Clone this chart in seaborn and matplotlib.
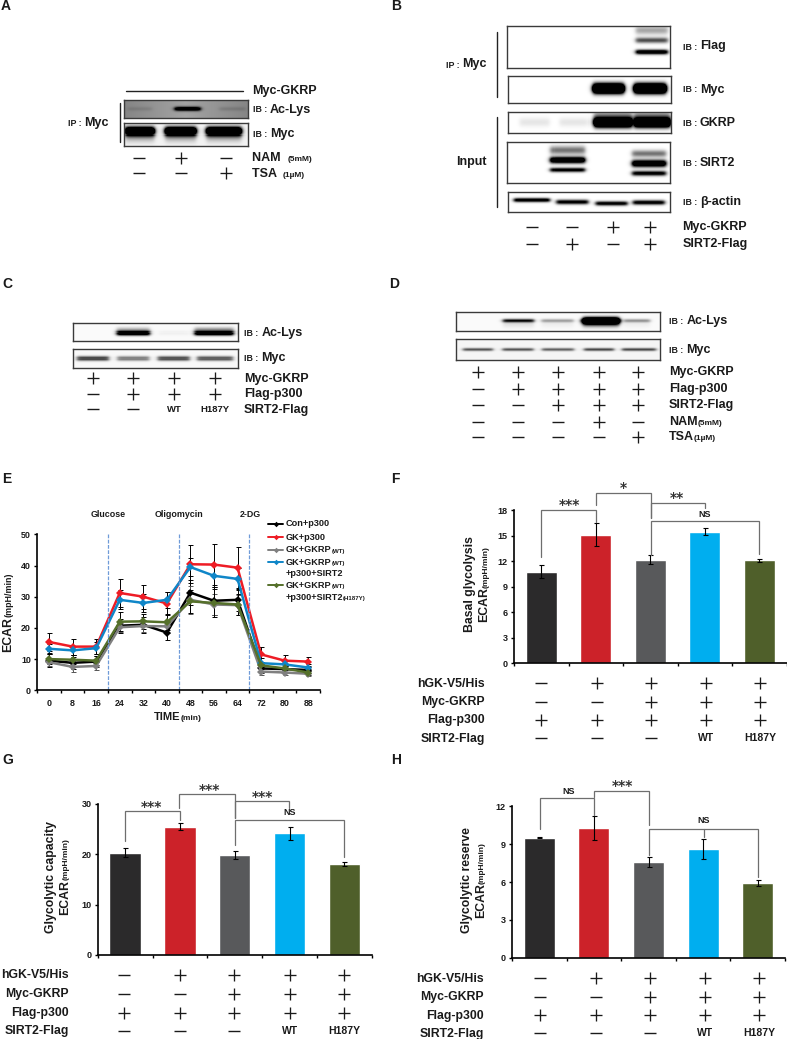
import numpy as np
import pandas as pd
import matplotlib
matplotlib.use('Agg')
import matplotlib.pyplot as plt
import seaborn as sns

W, H = 787, 1039
sns.set_theme(style='ticks')
plt.rcParams['font.family'] = ['Liberation Sans', 'DejaVu Sans']
plt.rcParams['font.weight'] = 'bold'

# ---- panel E
time_min = [0, 8, 16, 24, 32, 40, 48, 56, 64, 72, 80, 88]
groups = ['Con+p300', 'GK+p300', 'GK+GKRP', 'GK+GKRP+SIRT2', 'GK+GKRP+H187Y']
group_colors = ['#000000', '#ee1c25', '#808080', '#0f86c8', '#55702a']
con_p300 = [9.5, 8.8, 9.2, 20.7, 21, 18.5, 31.3, 28.7, 29, 7, 6.8, 6.5]
gk_p300 = [15.5, 14, 14, 31.2, 30, 27.8, 40.4, 40.3, 39.3, 11.5, 9.5, 9.2]
gk_gkrp = [9, 7.5, 7.8, 20.2, 20.6, 20.5, 29, 27.5, 27.3, 6, 5.7, 5.3]
gk_sirt2 = [13.3, 12.8, 13.5, 29, 28, 29, 39.5, 36.7, 35.7, 8.7, 8.3, 7.3]
gk_h187y = [10, 9.8, 9.5, 22, 22.1, 21.8, 28.5, 28, 27.5, 8, 7, 5.7]
con_err = [2, 2, 1.8, 2.3, 2.5, 2.3, 4, 4.5, 3.6, 1.5, 1, 1]
gk_err = [2.8, 2.6, 2.5, 4.5, 3.9, 3.7, 6.1, 6.7, 6.5, 2.3, 1.7, 1.4]
gkrp_err = [1.2, 1.6, 1.4, 1.5, 1.8, 2, 4.5, 3.3, 3.2, 1, 0.8, 0.8]
sirt2_err = [1.5, 1.5, 2, 3, 3, 2.5, 3, 3.5, 3.5, 1.5, 1.2, 1]
h187y_err = [1.5, 1.5, 1.5, 3, 2.5, 2.5, 3.8, 4.5, 3.5, 1.2, 1, 0.8]
inject_times = [20, 44, 68]

# ---- bar panels
bar_groups = ['Con', 'GK', 'GK+GKRP', 'SIRT2 WT', 'SIRT2 H187Y']
bar_colors = ['#2b2a2b', '#cc2229', '#58595b', '#00aeef', '#4f5f2a']
basal = [10.8, 15.15, 12.2, 15.5, 12.1]
basal_err = [0.8, 1.3, 0.5, 0.45, 0.15]
capacity = [20.3, 25.4, 19.8, 24.1, 18.0]
capacity_err = [0.9, 0.7, 0.8, 1.2, 0.4]
reserve = [9.5, 10.25, 7.55, 8.6, 5.9]
reserve_err = [0.05, 0.95, 0.4, 0.8, 0.25]

row_names = ['hGK-V5/His', 'Myc-GKRP', 'Flag-p300', 'SIRT2-Flag']
hgk_signs = ['-', '+', '+', '+', '+']
myc_signs = ['-', '-', '+', '+', '+']
p300_signs = ['+', '+', '+', '+', '+']
sirt2_signs = ['-', '-', '-', 'WT', 'H187Y']

# ---- blot band strengths, one value per lane
a_lys = [0.12, 1.5, 0.14]
a_myc = [2.5, 2.5, 2.5]
b_flag_top = [0, 0, 0, 0.35]
b_flag_mid = [0, 0, 0, 0.7]
b_flag_low = [0, 0, 0, 1.3]
b_myc = [0, 0, 3, 3]
b_gkrp = [0.1, 0.1, 3, 3]
b_sirt2_top = [0, 0.55, 0, 0.55]
b_sirt2_mid = [0, 1.6, 0, 1.6]
b_sirt2_low = [0, 1.1, 0, 1.1]
b_actin = [1.2, 1.1, 1.1, 1.1]
c_lys = [0, 1.4, 0.04, 1.4]
c_myc = [0.75, 0.5, 0.7, 0.65]
d_lys = [0, 1.0, 0.35, 3, 0.4]
d_myc = [0.65, 0.65, 0.6, 0.7, 0.7]

fig = plt.figure(figsize=(W / 100, H / 100), dpi=100, facecolor='white')


def add_ax(left, top, right, bottom):
    return fig.add_axes([left / W, 1 - bottom / H, (right - left) / W, (bottom - top) / H])


pix = fig.add_axes([0, 0, 1, 1], zorder=10)
pix.set_xlim(0, W)
pix.set_ylim(H, 0)
pix.axis('off')
pix.patch.set_alpha(0)
rend = fig.canvas.get_renderer()


def rich(x, y, runs, rotation=0, ha='left', gap=0):
    # text made of pieces of different size on one baseline
    items = [pix.text(0, 0, s, fontsize=fs, rotation=rotation, rotation_mode='anchor',
                      ha='left', va='baseline', color='#1a1a1a') for s, fs in runs]
    sizes = []
    for t in items:
        bb = t.get_window_extent(rend)
        sizes.append(bb.height if rotation == 90 else bb.width)
    total = sum(sizes) + gap * (len(runs) - 1)
    pos = -total / 2 if ha == 'center' else (-total if ha == 'right' else 0)
    for t, s in zip(items, sizes):
        if rotation == 90:
            t.set_position((x, y - pos))
        else:
            t.set_position((x + pos, y))
        pos += s + gap


def signs(xs, y, vals, small=7.5):
    for x, v in zip(xs, vals):
        if v == '+':
            pix.plot([x], [y], marker='+', ms=8.5, mew=0.95, color='#1a1a1a')
        elif v == '-':
            pix.plot([x], [y], marker='_', ms=8.5, mew=1.0, color='#1a1a1a')
        else:
            pix.text(x, y, v, fontsize=small, ha='center', va='center', color='#1a1a1a')


def blot(left, top, right, bottom, bg, lanes, rows, fade=0.0):
    ax = add_ax(left, top, right, bottom)
    n_w, n_h = int(right - left), int(bottom - top)
    xs = left + (np.arange(n_w) + 0.5) * (right - left) / n_w
    ys = top + (np.arange(n_h) + 0.5) * (bottom - top) / n_h
    img = np.full((n_h, n_w), float(bg))
    if fade:
        img = img + fade * np.abs(xs - xs.mean())[None, :] / (xs.max() - xs.mean())
    for y0, sy, vals in rows:
        for (c, hw), v in zip(lanes, vals):
            xp = 0.5 * (np.tanh((xs - (c - hw)) / 2.4) - np.tanh((xs - (c + hw)) / 2.4))
            yp = np.exp(-0.5 * ((ys - y0) / sy) ** 2)
            img = 1 - (1 - img) * (1 - np.clip(v * xp[None, :] * yp[:, None], 0, 1))
    sns.heatmap(img, vmin=0, vmax=1, cmap='gray_r', cbar=False, xticklabels=False,
                yticklabels=False, ax=ax)
    for sp in ax.spines.values():
        sp.set_visible(True)
        sp.set_color('#3a3a3a')
        sp.set_linewidth(1.0)


def ib(x, y, name, fs=9):
    rich(x, y + 3.5, [('IB :', 6.3), (name, fs)], gap=3)


def bracket(points, color='#6e6e6e'):
    px, py = zip(*points)
    pix.plot(px, py, color=color, lw=0.9, solid_joinstyle='miter')


# panel letters
for letter, lx, ly in [('A', 1, 10), ('B', 391, 10), ('C', 2, 288), ('D', 389, 288),
                       ('E', 2, 483), ('F', 391, 483), ('G', 2, 764), ('H', 391, 764)]:
    pix.text(lx, ly, letter, fontsize=10, color='#1a1a1a')

# ---- A
blot(124, 100, 247.7, 118.3, 0.36, [(140, 12), (188, 13), (232, 13)],
     [(109, 1.5, a_lys)], fade=0.12)
blot(124, 123.3, 247.7, 145.7, 0.05, [(140, 14.5), (181, 15.5), (224, 17)],
     [(131.5, 2.8, a_myc), (136, 4, [0.3, 0.3, 0.3])])
pix.plot([126, 242.7], [90.7, 90.7], color='#222', lw=1)
pix.plot([120, 120], [102.7, 142.3], color='#222', lw=1)
rich(251.7, 94, [('Myc-GKRP', 9)])
ib(252.7, 109, 'Ac-Lys')
ib(252.7, 133.7, 'Myc')
rich(67.7, 126, [('IP :', 6.3), ('Myc', 9)], gap=3)
signs([139.3, 181, 225.7], 157.7, ['-', '+', '-'])
signs([139.3, 181, 225.7], 173.3, ['-', '-', '+'])
rich(252, 161, [('NAM ', 9), ('(5mM)', 6)], gap=3)
rich(252, 177, [('TSA ', 9), ('(1µM)', 6)], gap=3)

# ---- B
blot(507.3, 25.7, 670, 67.7, 0.0, [(534, 15), (572, 15), (612, 15), (651.7, 16)],
     [(30, 3, b_flag_top), (40, 2, b_flag_mid), (51.7, 1.7, b_flag_low)])
blot(508.3, 76, 671, 103, 0.0, [(534, 15), (572, 15), (608.3, 15.5), (650, 16)],
     [(88.5, 3.3, b_myc)])
blot(508.3, 112.3, 670.7, 133.3, 0.0, [(535, 15), (574, 14), (612.7, 19), (651.7, 18)],
     [(122.5, 3.3, b_gkrp), (116, 3, [0, 0, 0.4, 0.4])])
blot(507.3, 141.7, 670, 183.3, 0.0, [(534, 15), (567.7, 17), (612, 15), (649, 17)],
     [(150, 3, [0, b_sirt2_top[1], 0, 0]), (153.5, 2.5, [0, 0, 0, b_sirt2_top[3]]),
      (160, 2.3, [0, b_sirt2_mid[1], 0, 0]), (163.5, 2.5, [0, 0, 0, b_sirt2_mid[3]]),
      (170, 1.6, [0, b_sirt2_low[1], 0, 0]), (173.5, 1.8, [0, 0, 0, b_sirt2_low[3]])])
blot(507.7, 191.7, 670.3, 212.3, 0.0, [(531.7, 18), (572.3, 16), (611.7, 16), (649, 16)],
     [(200, 1.5, [b_actin[0], 0, 0, 0]), (202, 1.7, [0, b_actin[1], 0, 0]),
      (203.5, 1.6, [0, 0, b_actin[2], 0]), (202.5, 1.7, [0, 0, 0, b_actin[3]])])
pix.plot([496.7, 496.7], [32.3, 97.3], color='#222', lw=1)
pix.plot([496.7, 496.7], [117.3, 207.3], color='#222', lw=1)
for by, name in [(46, 'Flag'), (89, 'Myc'), (122, 'GKRP'), (162.7, 'SIRT2'), (201.7, 'β-actin')]:
    ib(682.7, by, name)
rich(486.7, 67.5, [('IP :', 6.3), ('Myc', 9)], ha='right', gap=3)
rich(486.7, 165, [('Input', 9)], ha='right')
b_x = [531.7, 572.3, 613.3, 650]
signs(b_x, 226.7, ['-', '-', '+', '+'])
signs(b_x, 244.3, ['-', '+', '-', '+'])
rich(682.3, 230, [('Myc-GKRP', 9)])
rich(682.3, 247.5, [('SIRT2-Flag', 9)])

# ---- C
c_x = [92.5, 132.5, 174, 215]
blot(73, 323.3, 237.5, 340.7, 0.02, [(93, 16), (133.5, 16.5), (174, 15), (214.5, 19.5)],
     [(333, 1.5, c_lys), (330, 1.8, [0, 0.25, 0, 0.35])])
blot(73, 349.3, 237.5, 367.7, 0.03, [(93, 16), (133.5, 16), (174, 16), (215.5, 18)],
     [(358.5, 1.4, c_myc)])
ib(244, 332.7, 'Ac-Lys')
ib(244, 357.7, 'Myc')
for ry, name, vals in [(378.3, 'Myc-GKRP', ['+', '+', '+', '+']),
                       (394, 'Flag-p300', ['-', '+', '+', '+']),
                       (409.3, 'SIRT2-Flag', ['-', '-', 'WT', 'H187Y'])]:
    signs(c_x, ry, vals, small=6.8)
    rich(244, ry + 3.3, [(name, 9)])

# ---- D
d_x = [477.5, 517.5, 557.5, 599, 637.5]
blot(456, 311.7, 660, 331.3, 0.02, [(478, 15), (518.5, 15.5), (557.5, 16), (601, 18), (637, 13)],
     [(320.7, 1.3, d_lys), (321, 2.4, [0, 0, 0, 3, 0]), (324, 2.8, [0, 0.1, 0.05, 0.35, 0.05])])
blot(456, 339, 660, 360, 0.04, [(478, 15), (518, 15.5), (558, 16), (599, 15), (639, 17)],
     [(349.5, 1.1, d_myc)])
ib(669, 320.7, 'Ac-Lys')
ib(669, 349.3, 'Myc')
for ry, runs, vals in [(371.7, [('Myc-GKRP', 9)], ['+', '+', '+', '+', '+']),
                       (389, [('Flag-p300', 9)], ['-', '+', '+', '+', '+']),
                       (405, [('SIRT2-Flag', 9)], ['-', '-', '+', '+', '+']),
                       (421.7, [('NAM', 9), ('(5mM)', 6)], ['-', '-', '-', '+', '-']),
                       (436.7, [('TSA', 9), ('(1µM)', 6)], ['-', '-', '-', '-', '+'])]:
    signs(d_x, ry, vals)
    rich(669, ry + 3.3, runs)

# ---- E line panel
ax_e = add_ax(37.3, 534.3, 320, 690.3)
series = [con_p300, gk_p300, gk_gkrp, gk_sirt2, gk_h187y]
errs = [con_err, gk_err, gkrp_err, sirt2_err, h187y_err]
df = pd.concat([pd.DataFrame({'time': time_min, 'ecar': s, 'group': g}) for s, g in zip(series, groups)])
for s, e, c in zip(series, errs, ['black', 'black', '#555555', 'black', 'black']):
    ax_e.errorbar(time_min, s, yerr=e, fmt='none', ecolor=c, elinewidth=0.7, capsize=1.8, capthick=0.7)
sns.lineplot(data=df, x='time', y='ecar', hue='group', hue_order=groups, palette=group_colors,
             errorbar=None, marker='D', markersize=4, markeredgewidth=0, linewidth=1.8,
             legend=False, ax=ax_e)
for t in inject_times:
    ax_e.axvline(t, color='#6f9bd8', lw=0.9, ls=(0, (3, 1.2)))
ax_e.set_xlim(-4, 92)
ax_e.set_ylim(0, 50)
ax_e.set_xticks(np.arange(-4, 93, 8))
ax_e.set_xticklabels([])
ax_e.set_xticks(time_min, minor=True)
ax_e.set_xticklabels(time_min, minor=True, fontsize=6.4, fontweight='bold', color='#1a1a1a')
ax_e.tick_params(axis='x', which='minor', length=0, pad=6)
ax_e.tick_params(axis='x', which='major', length=2.5, width=1, color='black')
ax_e.set_yticks([0, 10, 20, 30, 40, 50])
ax_e.set_yticklabels([0, 10, 20, 30, 40, 50], fontsize=6.4, fontweight='bold', color='#1a1a1a')
ax_e.tick_params(axis='y', length=2.5, width=1, pad=2, color='black')
ax_e.set_xlabel('')
ax_e.set_ylabel('')
sns.despine(ax=ax_e)
for k in ['left', 'bottom']:
    ax_e.spines[k].set_linewidth(1.2)
    ax_e.spines[k].set_color('black')
rich(11.5, 652, [('ECAR', 8.8), ('(mpH/min)', 6.4)], rotation=90)
rich(178, 720.5, [('TIME', 8), ('(min)', 6)], ha='center')
for tx, label in [(108, 'Glucose'), (179, 'Oligomycin'), (250, '2-DG')]:
    pix.text(tx, 514.5, label, fontsize=6.4, ha='center', va='center', color='#1a1a1a')
for ly, c in [(524, group_colors[0]), (536.7, group_colors[1]), (550, group_colors[2]),
              (562.3, group_colors[3]), (585.3, group_colors[4])]:
    pix.plot([268, 283], [ly, ly], color=c, lw=1.4)
    pix.plot([275.5], [ly], marker='D', ms=2.8, mew=0, color=c)
rich(285.7, 526.5, [('Con+p300', 6.6)])
rich(285.7, 539.5, [('GK+p300', 6.6)])
rich(285.7, 552.5, [('GK+GKRP', 6.6), ('(WT)', 4.4)])
rich(285.7, 565, [('GK+GKRP', 6.6), ('(WT)', 4.4)])
rich(285.7, 576, [('+p300+SIRT2', 6.6)])
rich(285.7, 588, [('GK+GKRP', 6.6), ('(WT)', 4.4)])
rich(285.7, 600, [('+p300+SIRT2', 6.6), ('(H187Y)', 4.4)])


def bar_panel(left, top, right, bottom, vals, err, yticks):
    ax = add_ax(left, top, right, bottom)
    sns.barplot(x=bar_groups, y=vals, hue=bar_groups, palette=bar_colors, legend=False,
                width=0.57, saturation=1, errorbar=None, ax=ax)
    ax.errorbar(range(5), vals, yerr=err, fmt='none', ecolor='black', elinewidth=0.8,
                capsize=1.8, capthick=0.8)
    ax.set_xlim(-0.5, 4.5)
    ax.set_ylim(yticks[0], yticks[-1])
    ax.set_xticks(np.arange(-0.5, 5))
    ax.set_xticklabels([])
    ax.set_yticks(yticks)
    ax.set_yticklabels(yticks, fontsize=6.5, fontweight='bold', color='#1a1a1a')
    ax.tick_params(axis='both', length=2.5, width=1, pad=2, color='black')
    sns.despine(ax=ax)
    for k in ['left', 'bottom']:
        ax.spines[k].set_linewidth(1.2)
        ax.spines[k].set_color('black')
    return ax


def sign_table(xs, ys, right_x):
    for y, name, vals in zip(ys, row_names, [hgk_signs, myc_signs, p300_signs, sirt2_signs]):
        signs(xs, y, vals)
        rich(right_x, y + 3.3, [(name, 8.8)], ha='right')


def zf(x, y):
    return x / 3 + 420, y / 3 + 480


def zg(x, y):
    return x / 3, y / 3 + 770


def zh(x, y):
    return x / 3 + 400, y / 3 + 780


def stars(z, x, y, s):
    px, py = z(x, y)
    if s == 'NS':
        pix.text(px, py, s, fontsize=6.5, ha='center', va='center', color='#1a1a1a')
    else:
        pix.text(px, py + 1.5, s, fontsize=10, ha='center', va='center', color='#333333',
                 family='DejaVu Sans')


# ---- F
bar_panel(514, 510.3, 786.7, 663.3, basal, basal_err, [0, 3, 6, 9, 12, 15, 18])
rich(473.5, 584, [('Basal glycolysis', 8.8)], rotation=90, ha='center')
rich(487.5, 584, [('ECAR', 8.8), ('(mpH/min)', 6)], rotation=90, ha='center')
sign_table([541, 597, 650.7, 706, 760.3], [683.3, 701.7, 720, 738.3], 485)
for pts in [[(363, 230), (363, 90), (527, 90), (527, 125)],
            [(527, 75), (527, 38), (692, 38), (692, 115)],
            [(692, 115), (692, 70), (856, 70), (856, 85)],
            [(692, 225), (692, 122), (1016, 122), (1016, 222)]]:
    bracket([zf(*p) for p in pts])
for x, y, s in [(449, 70, '***'), (611, 20, '*'), (772, 50, '**'), (855, 103, 'NS')]:
    stars(zf, x, y, s)

# ---- G
bar_panel(97.7, 803.7, 371.7, 955, capacity, capacity_err, [0, 10, 20, 30])
rich(54, 877, [('Glycolytic capacity', 8.8)], rotation=90, ha='center')
rich(68, 877, [('ECAR', 8.8), ('(mpH/min)', 6)], rotation=90, ha='center')
sign_table([124.3, 180.3, 234.3, 290, 344], [975, 994, 1012.7, 1030.7], 69)
for pts in [[(375, 212), (375, 122), (539, 122), (539, 150)],
            [(537, 115), (537, 71), (706, 71), (706, 145)],
            [(706, 145), (706, 92), (867, 92), (867, 115)],
            [(706, 225), (706, 150), (1033, 150), (1033, 262)]]:
    bracket([zg(*p) for p in pts])
for x, y, s in [(453, 105, '***'), (627, 55, '***'), (786, 75, '***'), (870, 128, 'NS')]:
    stars(zg, x, y, s)

# ---- H
bar_panel(512, 806.3, 785, 957.7, reserve, reserve_err, [0, 3, 6, 9, 12])
rich(470, 880, [('Glycolytic reserve', 8.8)], rotation=90, ha='center')
rich(484, 880, [('ECAR', 8.8), ('(mpH/min)', 6)], rotation=90, ha='center')
sign_table([540, 596, 650, 705.3, 759.3], [978.3, 996.7, 1015.3, 1033.3], 484)
for pts in [[(420, 148), (420, 55), (583, 55), (583, 105)],
            [(583, 50), (583, 32), (746, 32), (746, 135)],
            [(746, 225), (746, 146), (1074, 146), (1074, 290)],
            [(912, 146), (912, 170)]]:
    bracket([zh(*p) for p in pts])
for x, y, s in [(505, 35, 'NS'), (668, 13, '***'), (911, 122, 'NS')]:
    stars(zh, x, y, s)

fig.savefig('out.png', dpi=100, facecolor='white')
